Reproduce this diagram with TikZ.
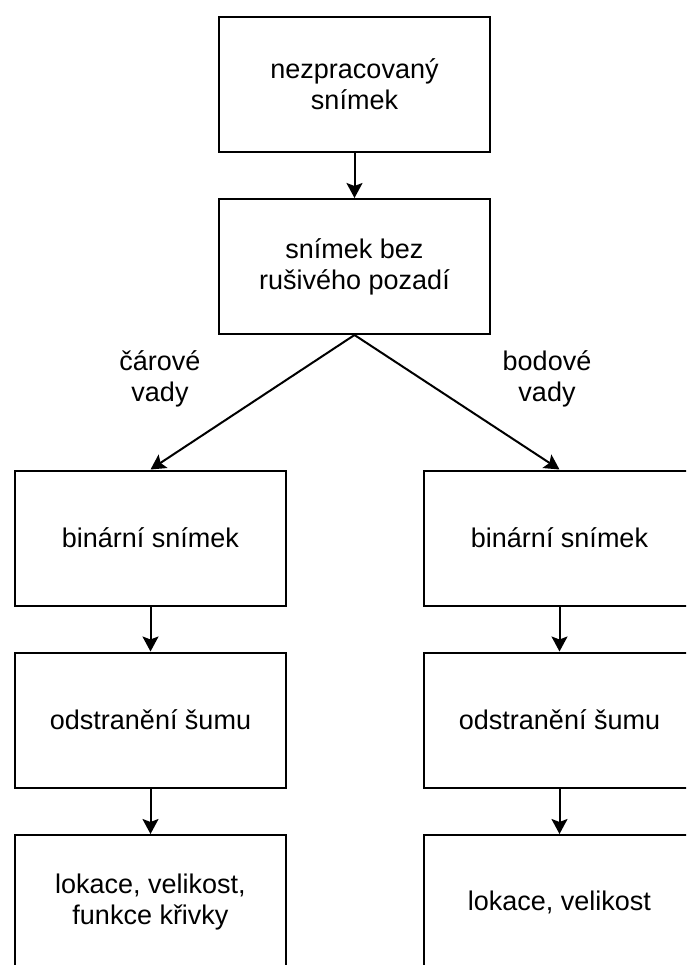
\documentclass[tikz,border=0pt]{standalone}
\usepackage{fontspec}
\setmainfont{Liberation Sans}
\usetikzlibrary{arrows.meta}
\begin{document}
\begin{tikzpicture}[x=1pt,y=-1pt,
  box/.style={draw,line width=2pt,minimum width=271pt,minimum height=135pt,align=center,inner sep=0pt,font=\fontsize{27}{31}\selectfont},
  lbl/.style={align=center,inner sep=0pt,font=\fontsize{27}{31}\selectfont},
  arr/.style={line width=2pt,-{Stealth[length=15pt,width=16pt,inset=3pt]}}]
\useasboundingbox (0,0) rectangle (686,965);
\clip (0,0) rectangle (686,965);
\node[box] (top) at (354.5,84.5) {nezpracovaný\\snímek};
\node[box] (mid) at (354.5,266.5) {snímek bez\\rušivého pozadí};
\node[box] (L1) at (150.5,538) {binární snímek};
\node[box] (L2) at (150.5,720) {odstranění šumu};
\node[box] (L3) at (150.5,902.5) {lokace, velikost,\\funkce křivky};
\node[box] (R1) at (559.5,538) {binární snímek};
\node[box] (R2) at (559.5,720) {odstranění šumu};
\node[box] (R3) at (559.5,902.5) {lokace, velikost};
\node[lbl] (la) at (160,379) {čárové\\vady};
\node[lbl] (lb) at (547,379) {bodové\\vady};
\draw[arr] (top) -- (mid);
\draw[arr] (mid.south) -- (L1.north);
\draw[arr] (mid.south) -- (R1.north);
\draw[arr] (L1) -- (L2);
\draw[arr] (L2) -- (L3);
\draw[arr] (R1) -- (R2);
\draw[arr] (R2) -- (R3);
\end{tikzpicture}
\end{document}
